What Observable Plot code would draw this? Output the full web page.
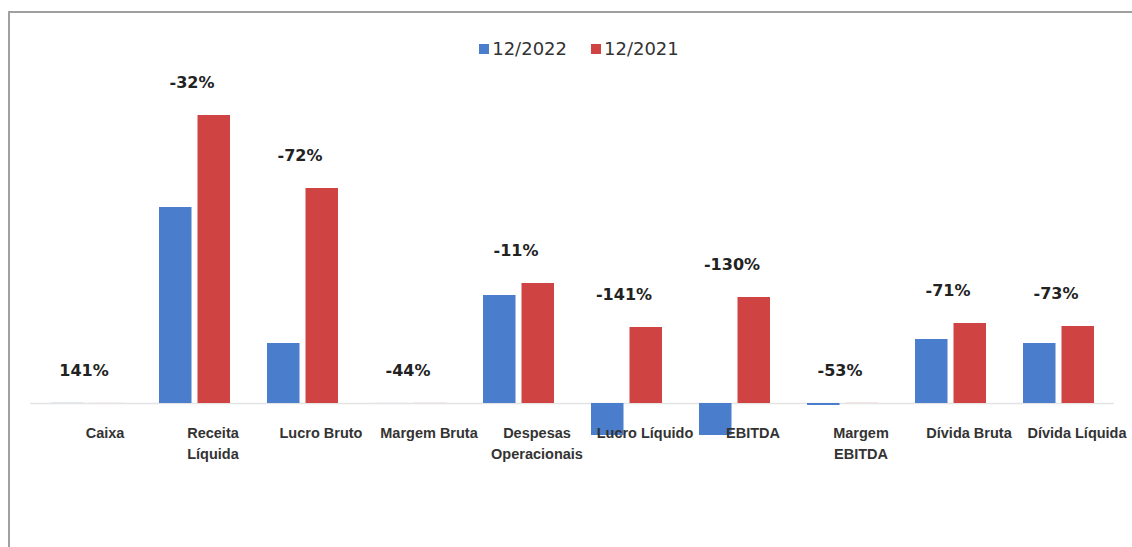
<!DOCTYPE html>
<html>
<head>
<meta charset="utf-8">
<script src="https://cdn.jsdelivr.net/npm/d3@7"></script>
<script src="https://cdn.jsdelivr.net/npm/@observablehq/plot@0.6"></script>
<style>
  body { margin: 0; background: #fff; }
  #wrap { position: relative; width: 1132px; height: 547px; overflow: hidden; background: #fff; }
  #frame { position: absolute; left: 8px; top: 11px; width: 1200px; height: 600px;
           border-top: 2px solid #a0a0a0; border-left: 2px solid #a0a0a0; pointer-events: none; }
  #legend { height: 60px; box-sizing: border-box; padding-top: 37px; padding-left: 26px;
            display: flex; justify-content: center; align-items: center;
            font-family: "DejaVu Sans", sans-serif; font-size: 18px; line-height: 20px; color: #333; }
  .item { display: flex; align-items: center; margin: 0 12px; }
  .sw { display: inline-block; width: 10px; height: 10px; margin-right: 3px; }
  #chart svg { display: block; }
</style>
</head>
<body>
<div id="wrap">
  <div id="legend"></div>
  <div id="chart"></div>
  <div id="frame"></div>
</div>
<script>
// ---- data ----
const categories = ["Caixa", "Receita Líquida", "Lucro Bruto", "Margem Bruta", "Despesas Operacionais",
                    "Lucro Líquido", "EBITDA", "Margem EBITDA", "Dívida Bruta", "Dívida Líquida"];
const tickLabels = ["Caixa", "Receita\nLíquida", "Lucro Bruto", "Margem Bruta", "Despesas\nOperacionais",
                    "Lucro Líquido", "EBITDA", "Margem\nEBITDA", "Dívida Bruta", "Dívida Líquida"];
const series = ["12/2022", "12/2021"];
const values2022 = [0.12, 196, 60, 0.05, 108, -32, -32, -2, 64, 60];
const values2021 = [0.05, 288, 215, 0.09, 120, 76, 106, 0.1, 80, 77];
const changes = ["141%", "-32%", "-72%", "-44%", "-11%", "-141%", "-130%", "-53%", "-71%", "-73%"];
const colors = ["#4a7dcc", "#cf4343"];

const table = categories.map((c, i) => ({
  category: c, label: tickLabels[i], v2022: values2022[i], v2021: values2021[i], change: changes[i]
}));

// ---- legend ----
const legend = document.getElementById("legend");
series.forEach((s, i) => {
  const it = document.createElement("span");
  it.className = "item";
  const sw = document.createElement("span");
  sw.className = "sw";
  sw.style.background = colors[i];
  it.appendChild(sw);
  it.appendChild(document.createTextNode(s));
  legend.appendChild(it);
});

// ---- chart ----
const chart = Plot.plot({
  width: 1132,
  height: 487,
  marginTop: 0,
  marginBottom: 0,
  marginLeft: 30,
  marginRight: 18,
  style: { fontFamily: "Liberation Sans, Arial, sans-serif", background: "transparent" },
  x: { domain: categories, paddingInner: 0.345, paddingOuter: 0.1725, axis: null },
  y: { domain: [-144, 343], axis: null },
  marks: [
    Plot.ruleY([0], { stroke: "#e4e4e4", strokeWidth: 1.5 }),
    Plot.barY(table, { x: "category", y: "v2022", fill: colors[0], insetRight: 38.5 }),
    Plot.barY(table, { x: "category", y: "v2021", fill: colors[1], insetLeft: 38.5 }),
    Plot.text(table, {
      x: "category", y: d => Math.max(0, d.v2022, d.v2021), text: "change",
      dy: -33, dx: -3, fontFamily: "DejaVu Sans", fontWeight: "bold", fontSize: 16, fill: "#222"
    }),
    Plot.text(table, {
      x: "category", y: () => 0, text: "label", dx: 18, dy: 20, lineAnchor: "top", lineHeight: 1.45,
      fontWeight: "bold", fontSize: 14.5, fill: "#333"
    })
  ]
});
document.getElementById("chart").appendChild(chart);
</script>
</body>
</html>
